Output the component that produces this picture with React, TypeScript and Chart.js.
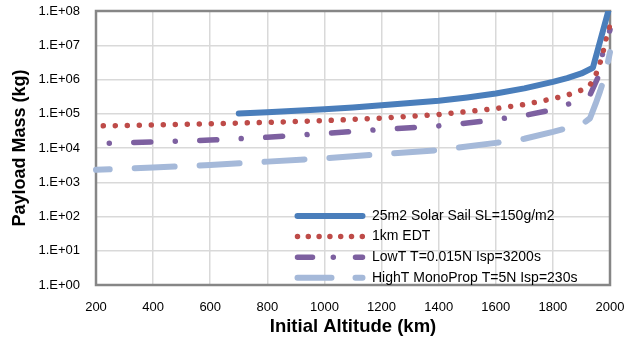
import React, { useEffect, useRef } from 'react';
import { Chart, registerables } from 'chart.js';

Chart.register(...registerables);

// ---------- data ----------
const seriesNames = [
  '25m2 Solar Sail SL=150g/m2',
  '1km EDT',
  'LowT T=0.015N Isp=3200s',
  'HighT MonoProp T=5N Isp=230s',
];

const sailAlt = [700, 800, 900, 1000, 1100, 1200, 1300, 1400, 1500, 1600, 1700, 1800, 1850, 1900, 1940, 2000];
const sailMass = [1.02e5, 1.11e5, 1.22e5, 1.35e5, 1.53e5, 1.78e5, 2.05e5, 2.4e5, 3.0e5, 3.9e5, 5.5e5, 8.5e5, 1.1e6, 1.5e6, 2.2e6, 1.5e8];

const edtAlt = [200, 400, 600, 800, 1000, 1200, 1400, 1500, 1600, 1700, 1800, 1850, 1900, 1930, 1950, 1965, 1975, 1985, 2000];
const edtMass = [4.4e4, 4.7e4, 5.1e4, 5.6e4, 6.3e4, 7.5e4, 9.5e4, 1.15e5, 1.42e5, 1.85e5, 2.75e5, 3.5e5, 4.9e5, 6.9e5, 1.35e6, 3.0e6, 6.0e6, 1.4e7, 4.0e7];

const lowTAlt = [200, 400, 600, 800, 1000, 1200, 1400, 1500, 1600, 1700, 1800, 1850, 1900, 1930, 1960, 1975, 1990, 2000];
const lowTMass = [1.35e4, 1.5e4, 1.7e4, 2.07e4, 2.66e4, 3.47e4, 4.42e4, 5.37e4, 6.76e4, 8.9e4, 1.32e5, 1.86e5, 2.63e5, 3.55e5, 1.26e6, 6.3e6, 1.6e7, 2.8e7];

const highTAlt = [200, 400, 600, 800, 1000, 1200, 1400, 1600, 1700, 1800, 1860, 1900, 1930, 1950, 1965, 1980, 1990, 2000];
const highTMass = [2.3e3, 2.7e3, 3.2e3, 4.0e3, 5.0e3, 6.6e3, 8.7e3, 1.41e4, 1.86e4, 2.95e4, 4.0e4, 4.8e4, 7.4e4, 2.0e5, 4.5e5, 1.1e6, 2.5e6, 6.3e6];

const xTickValues = [200, 400, 600, 800, 1000, 1200, 1400, 1600, 1800, 2000];
const yTickValues = [1, 10, 100, 1e3, 1e4, 1e5, 1e6, 1e7, 1e8];
const yTickLabels = ['1.E+00', '1.E+01', '1.E+02', '1.E+03', '1.E+04', '1.E+05', '1.E+06', '1.E+07', '1.E+08'];

const xTitle = 'Initial Altitude (km)';
const yTitle = 'Payload Mass (kg)';

// ---------- styles ----------
const FONT = '"Liberation Sans", Arial, sans-serif';
const colors = ['#4A7EBB', '#BE4B48', '#7D60A0', '#A5B9D9'];
const widths = [6, 5.5, 5.5, 6];
const dashes: number[][] = [[], [0.001, 12], [17, 24.5, 0.001, 24.5], [40, 25]];
const dashOffsets = [0, 4.7, 28.2, 26.3];
const legendDashes: number[][] = [[], [0.001, 10.8], [15, 20.8, 0.001, 22.2], [34, 24]];

const toPoints = (alt: number[], mass: number[]) => alt.map((x, i) => ({ x, y: mass[i] }));

const zeroPadding = (s: any) => {
  s.paddingTop = 0;
  s.paddingBottom = 0;
  s.paddingLeft = 0;
  s.paddingRight = 0;
};

const framePlugin = {
  id: 'frame',
  beforeDatasetsDraw(chart: any) {
    const { ctx, chartArea: a } = chart;
    ctx.save();
    ctx.strokeStyle = '#868686';
    ctx.lineWidth = 2.5;
    ctx.strokeRect(a.left, a.top, a.right - a.left, a.bottom - a.top);
    ctx.restore();
  },
};

const legendPlugin = {
  id: 'insideLegend',
  afterDraw(chart: any) {
    const { ctx, chartArea: a } = chart;
    const x1 = a.left + 201.5;
    const x2 = a.left + 266.5;
    const tx = a.left + 276;
    const rows = [a.bottom - 69, a.bottom - 48.4, a.bottom - 27.8, a.bottom - 7.2];
    chart.data.datasets.forEach((ds: any, i: number) => {
      const y = rows[i];
      ctx.save();
      ctx.strokeStyle = ds.borderColor;
      ctx.lineWidth = ds.borderWidth;
      ctx.lineCap = 'round';
      ctx.setLineDash(legendDashes[i]);
      ctx.lineDashOffset = 0;
      ctx.beginPath();
      ctx.moveTo(x1, y);
      ctx.lineTo(x2, y);
      ctx.stroke();
      ctx.setLineDash([]);
      ctx.fillStyle = '#000';
      ctx.font = '14px ' + FONT;
      ctx.textAlign = 'left';
      ctx.textBaseline = 'middle';
      ctx.fillText(ds.label, tx, y);
      ctx.restore();
    });
  },
};

export default function App() {
  const ref = useRef<HTMLCanvasElement | null>(null);

  useEffect(() => {
    if (!ref.current) return;
    const sets = [
      toPoints(sailAlt, sailMass),
      toPoints(edtAlt, edtMass),
      toPoints(lowTAlt, lowTMass),
      toPoints(highTAlt, highTMass),
    ];
    const chart = new Chart(ref.current, {
      type: 'line',
      data: {
        datasets: sets.map((data, i) => ({
          label: seriesNames[i],
          data,
          borderColor: colors[i],
          backgroundColor: colors[i],
          borderWidth: widths[i],
          borderDash: dashes[i],
          borderDashOffset: dashOffsets[i],
          borderCapStyle: 'round',
          borderJoinStyle: 'round',
          pointRadius: 0,
          pointHoverRadius: 0,
          tension: 0,
          fill: false,
          clip: { left: 3, right: 4, top: 0, bottom: 3 },
        })) as any,
      },
      options: {
        animation: false,
        responsive: false,
        maintainAspectRatio: false,
        devicePixelRatio: 1,
        layout: { autoPadding: false, padding: { top: 11, right: 22, bottom: 0, left: 0 } },
        plugins: { legend: { display: false }, tooltip: { enabled: false } },
        events: [],
        scales: {
          x: {
            type: 'linear',
            min: 200,
            max: 2000,
            afterBuildTicks: (s: any) => {
              s.ticks = xTickValues.map((v) => ({ value: v }));
            },
            afterFit: (s: any) => {
              s.height = 58;
              zeroPadding(s);
            },
            ticks: {
              padding: 14.5,
              color: '#000',
              font: { family: FONT, size: 13 },
              maxRotation: 0,
              autoSkip: false,
              callback: (v: any) => String(v),
            },
            grid: { color: '#d9d9d9', lineWidth: 1.5, drawTicks: false },
            border: { display: false },
            title: {
              display: true,
              text: xTitle,
              color: '#000',
              font: { family: FONT, size: 18.5, weight: 'bold' },
              padding: { top: 0, bottom: 4.9 },
            },
          },
          y: {
            type: 'logarithmic',
            min: 1,
            max: 1e8,
            afterBuildTicks: (s: any) => {
              s.ticks = yTickValues.map((v) => ({ value: v }));
            },
            afterFit: (s: any) => {
              s.width = 96;
              zeroPadding(s);
            },
            ticks: {
              padding: 16,
              color: '#000',
              font: { family: FONT, size: 13 },
              autoSkip: false,
              callback: (v: any) => {
                const i = yTickValues.findIndex((t) => Math.abs(Math.log10(t) - Math.log10(v)) < 1e-6);
                return i >= 0 ? yTickLabels[i] : '';
              },
            },
            grid: { color: '#d9d9d9', lineWidth: 1.5, drawTicks: false },
            border: { display: false },
            title: {
              display: true,
              text: yTitle,
              color: '#000',
              font: { family: FONT, size: 18, weight: 'bold' },
              padding: { top: 9.2, bottom: 0 },
            },
          },
        },
      } as any,
      plugins: [framePlugin, legendPlugin],
    });
    return () => chart.destroy();
  }, []);

  return (
    <div style={{ position: 'fixed', left: 0, top: 0, width: 632, height: 343, background: '#fff' }}>
      <canvas ref={ref} width={632} height={343} style={{ width: 632, height: 343, display: 'block' }} />
    </div>
  );
}
